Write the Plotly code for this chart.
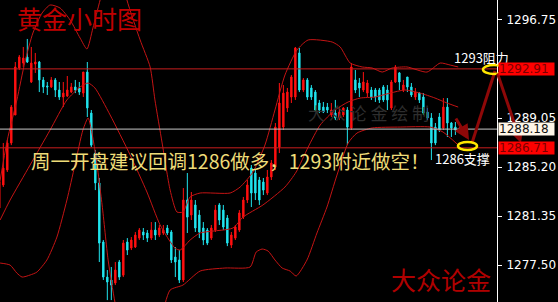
import plotly.graph_objects as go

# ---------------- data ----------------
bar_index = list(range(116))
opens = [1281.98,1283.79,1284.97,1287.09,1289.29,1292.98,1293.37,1293.84,1291.88,1293.29,
         1293.45,1292.04,1291.57,1291.49,1292.04,1291.25,1290.70,1290.78,1291.09,1291.49,
         1291.41,1291.01,1292.66,1289.44,1286.30,1283.95,1279.31,1276.56,1276.33,1276.09,
         1277.74,1276.71,1279.31,1278.84,1278.92,1279.62,1280.10,1280.02,1279.62,1280.25,
         1279.86,1280.02,1280.41,1280.10,1278.13,1277.90,1276.33,1282.61,1281.43,1282.22,
         1281.43,1280.41,1280.25,1279.62,1280.25,1282.22,1281.82,1281.20,1279.07,1279.62,
         1280.25,1281.27,1282.61,1285.12,1284.73,1284.18,1284.02,1283.16,1284.42,1285.21,
         1286.77,1288.34,1289.84,1290.70,1290.70,1294.16,1291.25,1292.04,1291.41,1291.09,
         1290.23,1289.91,1289.91,1289.29,1289.44,1289.05,1289.29,1289.68,1288.27,1292.04,
         1291.80,1291.25,1291.01,1291.25,1291.25,1291.25,1291.49,1291.25,1289.84,1291.88,
         1292.59,1291.25,1292.27,1291.49,1290.70,1291.01,1290.70,1289.52,1289.05,1288.34,
         1289.13,1288.27,1289.91,1288.66,1288.34,1288.03]
highs = [1284.57,1287.09,1287.32,1290.07,1293.45,1294.00,1294.63,1295.26,1294.63,1294.16,
         1293.53,1292.27,1291.88,1292.27,1292.19,1291.88,1291.88,1292.35,1291.80,1292.04,
         1291.88,1292.66,1293.45,1289.68,1286.54,1284.34,1279.47,1277.11,1277.35,1277.74,
         1277.90,1279.47,1279.62,1279.70,1280.10,1280.41,1280.41,1280.25,1280.88,1280.88,
         1280.65,1280.65,1280.65,1280.25,1278.92,1278.68,1283.55,1284.73,1283.24,1282.61,
         1281.82,1280.88,1280.41,1280.65,1282.22,1282.37,1282.22,1281.43,1280.10,1280.65,
         1281.82,1282.85,1284.18,1285.36,1284.97,1284.42,1284.34,1284.97,1285.75,1288.66,
         1291.80,1291.64,1291.41,1292.43,1294.63,1294.55,1292.19,1292.19,1291.64,1291.25,
         1290.47,1290.31,1290.23,1290.23,1290.47,1289.91,1289.91,1289.91,1293.37,1292.82,
         1292.19,1292.66,1292.04,1291.49,1291.41,1291.41,1291.64,1291.64,1292.04,1293.21,
         1292.66,1292.04,1292.27,1291.80,1291.41,1291.09,1291.01,1289.84,1289.44,1288.66,
         1289.44,1290.62,1290.62,1288.74,1288.74,1288.34]
lows = [1281.67,1283.63,1284.81,1286.92,1289.29,1292.82,1293.06,1293.37,1291.80,1292.59,
        1291.09,1291.01,1290.86,1291.41,1290.70,1290.47,1289.91,1290.70,1291.01,1291.01,
        1290.86,1290.70,1289.13,1286.77,1283.39,1277.74,1276.33,1274.75,1274.75,1275.93,
        1276.33,1276.56,1278.29,1278.68,1278.84,1279.47,1279.47,1279.31,1279.47,1279.47,
        1279.70,1279.86,1279.86,1277.66,1276.56,1276.09,1276.17,1280.02,1281.04,1280.10,
        1279.62,1279.07,1279.07,1279.47,1280.10,1280.65,1280.25,1278.99,1278.84,1279.47,
        1280.10,1281.12,1282.37,1282.06,1282.61,1282.22,1283.00,1283.00,1284.18,1284.97,
        1286.30,1288.11,1289.52,1290.23,1290.47,1291.09,1291.09,1290.47,1290.47,1289.52,
        1289.44,1289.44,1289.44,1289.13,1288.89,1288.89,1289.13,1286.92,1288.11,1291.01,
        1290.70,1291.09,1290.70,1290.47,1290.31,1290.23,1290.31,1289.68,1289.68,1291.80,
        1291.25,1291.09,1291.09,1290.70,1290.47,1290.23,1289.29,1288.89,1285.75,1286.92,
        1287.95,1288.11,1287.56,1287.56,1287.72,1287.87]
closes = [1284.02,1285.12,1287.09,1289.91,1293.06,1293.84,1293.76,1293.45,1293.37,1293.45,
          1292.04,1291.49,1291.49,1292.04,1291.25,1290.70,1291.01,1291.25,1291.49,1291.25,
          1291.09,1292.66,1289.84,1286.92,1283.95,1279.23,1276.56,1276.17,1275.93,1277.11,
          1276.56,1279.23,1278.68,1279.47,1279.86,1280.25,1279.86,1279.62,1280.25,1279.86,
          1280.41,1280.25,1280.02,1277.90,1277.74,1276.33,1282.61,1281.27,1282.61,1280.41,
          1280.10,1279.47,1279.23,1280.41,1281.82,1281.04,1280.49,1279.23,1279.86,1280.49,
          1281.59,1282.61,1283.79,1283.16,1283.16,1282.61,1283.39,1284.42,1285.52,1288.34,
          1290.23,1291.01,1291.09,1292.27,1294.55,1291.25,1292.04,1290.70,1290.70,1289.68,
          1289.68,1289.52,1289.68,1289.68,1289.05,1289.52,1289.84,1288.34,1293.06,1291.25,
          1291.41,1291.88,1291.80,1290.70,1290.70,1290.47,1290.47,1290.47,1291.88,1293.06,
          1291.88,1291.64,1291.49,1290.86,1291.09,1290.47,1289.44,1289.05,1287.09,1287.09,
          1288.11,1289.91,1288.66,1288.27,1288.11,1288.18]

# Bollinger band readings (bar position, price)
upper_idx = [0,2,4.4,6.4,8.4,10.7,12.7,15.2,17.7,20.2,21.9,23.4,25.2,27.7,29.7,31.9,35.2,37.7,38.9,
             40.7,42.7,44.4,45.9,47.7,50.2,57.7,60.2,63.4,66.4,68.9,71.4,74.4,77.2,83.2,85.2,87.7,
             90.7,93.2,95.7,98.2,101.9,106.9,110.2,112.7,114.7]
upper_val = [1283.79,1287.32,1290.47,1293.45,1295.73,1297.30,1297.93,1297.69,1296.75,1295.33,1294.47,
             1296.12,1298.32,1301.07,1301.46,1298.32,1295.18,1293.06,1290.47,1287.09,1283.39,1281.67,
             1281.67,1282.85,1283.16,1283.16,1283.63,1284.81,1286.93,1289.68,1292.43,1294.39,1295.18,
             1295.02,1294.63,1293.37,1293.06,1292.98,1292.66,1292.98,1293.06,1292.66,1293.37,1293.21,
             1293.06]
mid_idx = [0.2,2.7,7.7,12.7,16.9,20.2,22.2,23.9,27.7,32.7,36.9,40.2,43.9,45.2,47.7,50.2,58.4,60.9,
           65.9,71.4,74.2,77.2,80.2,83.9,87.2,90.2,93.9,97.7,101.4,105.2,108.9,111.9,114.7]
mid_val = [1281.04,1282.61,1285.36,1288.11,1290.47,1291.49,1291.80,1291.41,1289.29,1286.15,1283.24,
           1280.65,1278.84,1278.68,1279.47,1280.02,1280.41,1281.27,1282.22,1283.63,1284.81,1286.77,
           1288.50,1289.68,1290.31,1290.62,1290.70,1291.01,1291.25,1291.01,1290.62,1290.23,1289.91]
lower_idx = [0.2,2.7,4.4,5.7,7.7,9.4,11.9,14.4,16.9,18.9,20.9,22.2,23.9,25.7,27.2,28.9,31.4,36.4,
             40.2,42.7,45.9,50.2,56.4,62.7,64.2,65.7,67.2,68.9,70.7,72.7,74.2,76.9,79.4,81.9,84.4,
             87.2,89.4,93.2,100.2,107.7,110.9,114.7]
lower_val = [1277.66,1277.50,1276.87,1276.56,1276.72,1276.95,1277.90,1279.70,1282.61,1285.36,1288.11,
             1289.05,1286.54,1282.22,1277.90,1274.60,1271.22,1271.22,1273.18,1275.54,1275.93,1277.03,
             1277.27,1277.35,1278.52,1278.76,1278.60,1277.90,1277.27,1277.03,1276.64,1277.90,1280.02,
             1282.06,1284.57,1287.09,1287.87,1288.27,1288.34,1288.34,1287.95,1286.93]

axis_ticks = [1277.50, 1281.35, 1285.20, 1289.05, 1296.75]
resist_level = 1292.91
last_price = 1288.18
support_level = 1286.71
y_range = [1274.60, 1298.32]
x_range = [0.175, 124.4]

# ---------------- figure ----------------
W, H = 497, 302          # plot area in pixels
def px(x): return x / W
def py(y): return 1 - y / H

fig = go.Figure()

band_color = "#C41414"
for xs, ys in [(upper_idx, upper_val), (mid_idx, mid_val), (lower_idx, lower_val)]:
    fig.add_trace(go.Scatter(x=xs, y=ys, mode="lines", line=dict(color=band_color, width=1, shape="spline", smoothing=0.6),
                             hoverinfo="skip", showlegend=False))

fig.add_trace(go.Candlestick(
    x=bar_index, open=opens, high=highs, low=lows, close=closes,
    increasing=dict(line=dict(color="#FF1010", width=1), fillcolor="#FF1010"),
    decreasing=dict(line=dict(color="#20E4EE", width=1), fillcolor="#20E4EE"),
    whiskerwidth=0, showlegend=False, hoverinfo="skip"))

shapes = []
for lvl, col in [(resist_level, "#C81E1E"), (support_level, "#C81E1E"), (last_price, "#C8C8C8")]:
    shapes.append(dict(type="line", xref="paper", x0=0, x1=1, yref="y", y0=lvl, y1=lvl,
                       line=dict(color=col, width=1), layer="above"))

# arrows path (dark red)
arrow_col = "#8E0808"
shapes.append(dict(type="line", xref="paper", yref="paper", x0=px(472), y0=py(143), x1=px(495), y1=py(71),
                   line=dict(color=arrow_col, width=3)))
# ellipses
ell_col = "#FFE600"
shapes.append(dict(type="circle", xref="paper", yref="paper", x0=px(483), x1=px(505), y0=py(74), y1=py(65),
                   line=dict(color=ell_col, width=2.5)))
shapes.append(dict(type="circle", xref="paper", yref="paper", x0=px(458), x1=px(477), y0=py(150), y1=py(142),
                   line=dict(color=ell_col, width=2.5)))

cjk = "Noto Sans CJK SC"
def label(text, x, y, size, color, anchor="center"):
    return dict(text=text, xref="paper", yref="paper", x=px(x), y=py(y), xanchor=anchor, yanchor="middle",
                showarrow=False, font=dict(family=cjk, size=size, color=color))

ann = []
ann.append(label("黄金小时图", 15, 18, 25, "#C00000", "left"))
ann.append(label("大众论金", 441, 279, 25, "#B00000"))
ann.append(label("大 众 论 金 绘 制", 368, 112, 17, "#2E2E2E"))
ann.append(label("周一开盘建议回调1286做多，1293附近做空！", 29, 161, 19.5, "#EEDC78", "left"))
ann.append(label("1293阻力", 452, 58, 13, "#FFFFFF", "left"))
ann.append(label("1286支撑", 433, 158, 13, "#FFFFFF", "left"))
# arrowheads
ann.append(dict(text="", xref="paper", yref="paper", x=px(469), y=py(140), ax=455 - 469, ay=117 - 140,
                showarrow=True, arrowhead=2, arrowsize=1, arrowwidth=3, arrowcolor=arrow_col))
ann.append(dict(text="", xref="paper", yref="paper", x=px(521), y=py(143), ax=497 - 521, ay=72 - 143,
                showarrow=True, arrowhead=2, arrowsize=1, arrowwidth=3, arrowcolor=arrow_col))
# price label boxes on the axis
for lvl, bg, fc in [(resist_level, "#FF0000", "#7A0000"), (last_price, "#FFF6E8", "#101010"),
                    (support_level, "#FF0000", "#7A0000")]:
    ann.append(dict(text=f"{lvl:.2f}", xref="paper", yref="y", x=1, y=lvl, xanchor="left", yanchor="middle",
                    xshift=1, showarrow=False, bgcolor=bg, width=55, height=12, align="left", borderpad=0,
                    font=dict(family="DejaVu Sans", size=12, color=fc)))

fig.update_layout(
    width=558, height=302, margin=dict(l=0, r=61, t=0, b=0),
    paper_bgcolor="black", plot_bgcolor="black",
    showlegend=False, boxgap=0.5, shapes=shapes, annotations=ann,
    xaxis=dict(range=x_range, visible=False, rangeslider=dict(visible=False), fixedrange=True),
    yaxis=dict(range=y_range, side="right", showgrid=False, zeroline=False, showline=True,
               linecolor="white", linewidth=1, ticks="outside", ticklen=4, tickcolor="white",
               tickvals=axis_ticks, ticktext=[f"{v:.2f}" for v in axis_ticks],
               tickfont=dict(family="DejaVu Sans", size=12, color="white"), ticklabelstandoff=2),
)

fig.write_html("out.html")
